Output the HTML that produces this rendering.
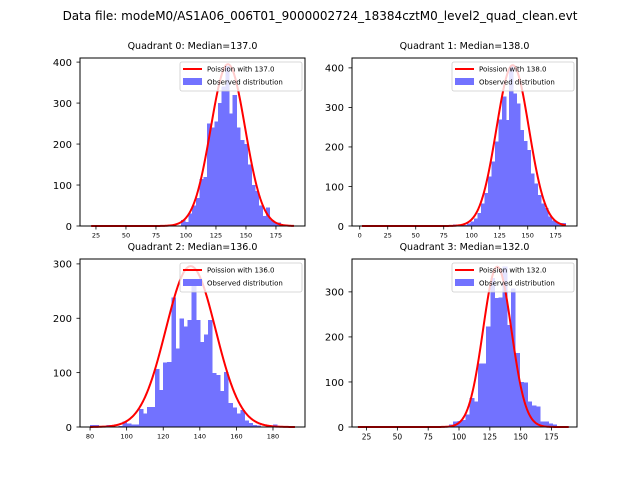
<!DOCTYPE html>
<html><head><meta charset="utf-8"><style>
html,body{margin:0;padding:0;background:#fff;}
svg{display:block;font-family:"DejaVu Sans","Liberation Sans",sans-serif;}
</style></head><body>
<svg id="fig" width="640" height="480" viewBox="0 0 640 480">
<text x="320" y="20" text-anchor="middle" font-size="12">Data file: modeM0/AS1A06_006T01_9000002724_18384cztM0_level2_quad_clean.evt</text>
</svg>
<script>
// ---- data ----
const quadrants = ["Quadrant 0","Quadrant 1","Quadrant 2","Quadrant 3"];
const medians = [137.0,138.0,136.0,132.0];
const binStarts = [96,83.35,80,85.2];
const binWidths = [3.07,3.13,2.22,3.35];
const q0Counts = [15,10,30,50,68,115,120,250,240,255,300,340,390,275,320,240,210,200,150,100,85,50,25,45,15,8,8];
const q1Counts = [4,2,0,3,6,11,19,33,57,84,125,163,214,270,327,268,403,335,310,243,215,192,133,108,78,57,45,24,14,10,8,8];
const q2Counts = [4,4,0,0,4,4,0,2,10,6,5,5,33,25,37,37,107,68,119,120,238,144,200,185,197,268,197,156,170,197,99,96,66,101,44,36,25,31,12,7,4,3,0,0,0,5];
const q3Counts = [2,0,5,12,13,16,28,64,57,141,141,223,331,286,287,356,227,308,164,100,99,57,48,45,12,12,8,6];
const fitCenters = [135,136.6,135,131];
const fitSigmas = [14.3,14.5,13.6,11.5];
const fitPeaks = [395,407,296,356];
const curveLo = [21,2,80,18];
const curveHi = [190,184,192,189];
const q0XTicks = [25,50,75,100,125,150,175];
const q1XTicks = [0,25,50,75,100,125,150,175];
const q2XTicks = [80,100,120,140,160,180];
const q3XTicks = [25,50,75,100,125,150,175];
const q0YTicks = [0,100,200,300,400];
const q1YTicks = [0,100,200,300,400];
const q2YTicks = [0,100,200,300];
const q3YTicks = [0,100,200,300];

// ---- layout ----
const counts=[q0Counts,q1Counts,q2Counts,q3Counts];
const xticks=[q0XTicks,q1XTicks,q2XTicks,q3XTicks];
const yticks=[q0YTicks,q1YTicks,q2YTicks,q3YTicks];
const boxes=[{l:80,t:58,r:305,b:226},{l:352,t:58,r:577,b:226},{l:80,t:259,r:305,b:427},{l:352,t:259,r:577,b:427}];
const domains=[{x0:11.7,x1:199.2,y1:410},{x0:-6.9,x1:194,y1:425},{x0:74.5,x1:197.5,y1:309},{x0:13.2,x1:195.7,y1:373}];
const xFont=[6.5,6.5,6.5,7.5];
const NS="http://www.w3.org/2000/svg";
const fig=document.getElementById('fig');
function mk(tag,attrs,parent){const e=document.createElementNS(NS,tag);for(const k in attrs)e.setAttribute(k,attrs[k]);(parent||fig).appendChild(e);return e;}

for(let q=0;q<4;q++){
  const B=boxes[q],D=domains[q];
  const sx=v=>B.l+(v-D.x0)/(D.x1-D.x0)*(B.r-B.l);
  const sy=v=>B.b-v/D.y1*(B.b-B.t);
  const g=mk('g',{});
  
  
  const title=mk('text',{x:(B.l+B.r)/2,y:B.t-9,'text-anchor':'middle','font-size':'9.5'},g);
  title.textContent=quadrants[q]+": Median="+medians[q].toFixed(1);
  
  
  // bars
  const c=counts[q];
  const bg=mk('g',{'shape-rendering':'crispEdges'},g);
  for(let i=0;i<c.length;i++){
    if(c[i]<=0)continue;
    const x0=sx(binStarts[q]+i*binWidths[q]),x1=sx(binStarts[q]+(i+1)*binWidths[q]);
    const r=mk('rect',{x:x0.toFixed(2),y:sy(c[i]),width:(x1-x0+0.6).toFixed(2),height:sy(0)-sy(c[i]),fill:'#7272ff'},bg);
    
    
  }
  // fit curve
  let pts=[];
  for(let k=curveLo[q];k<=curveHi[q];k++){
    const v=fitPeaks[q]*Math.exp(-0.5*Math.pow((k-fitCenters[q])/fitSigmas[q],2));
    pts.push(sx(k).toFixed(2)+","+sy(v).toFixed(2));
  }
  const pl=mk('polyline',{points:pts.join(' '),fill:'none',stroke:'#ff0000','stroke-width':2,'stroke-linejoin':'round'},g);
  
  
  // axes box
  const fr=mk('rect',{x:B.l,y:B.t,width:B.r-B.l,height:B.b-B.t,fill:'none',stroke:'#000','stroke-width':1},g);
  
  
  // x ticks
  xticks[q].forEach(v=>{
    const x=sx(v);
    mk('line',{x1:x,y1:B.b,x2:x,y2:B.b+3.5,stroke:'#000','stroke-width':0.8},g);
    const t=mk('text',{x:x,y:B.b+5+xFont[q],'text-anchor':'middle','font-size':xFont[q]},g);
    t.textContent=v;
    
    
  });
  yticks[q].forEach(v=>{
    const y=sy(v);
    mk('line',{x1:B.l-3.5,y1:y,x2:B.l,y2:y,stroke:'#000','stroke-width':0.8},g);
    const t=mk('text',{x:B.l-8,y:y+3.8,'text-anchor':'end','font-size':'10'},g);
    t.textContent=v;
    
    
  });
  // legend
  const lx=B.r-125,ly=B.t+4;
  const lg=mk('g',{},g);
  
  
  mk('rect',{x:lx,y:ly,width:122,height:29,rx:2,fill:'rgba(255,255,255,0.8)',stroke:'#ccc','stroke-width':0.8},lg);
  mk('line',{x1:lx+3,y1:ly+7,x2:lx+22,y2:ly+7,stroke:'#ff0000','stroke-width':2},lg);
  const t1=mk('text',{x:lx+27,y:ly+9.5,'font-size':'7'},lg);
  t1.textContent="Poission with "+medians[q].toFixed(1);
  
  
  mk('rect',{x:lx+3,y:ly+16,width:19,height:7,fill:'#7272ff'},lg);
  const t2=mk('text',{x:lx+27,y:ly+22.5,'font-size':'7'},lg);
  t2.textContent="Observed distribution";
  
  
}
</script>
</body></html>
